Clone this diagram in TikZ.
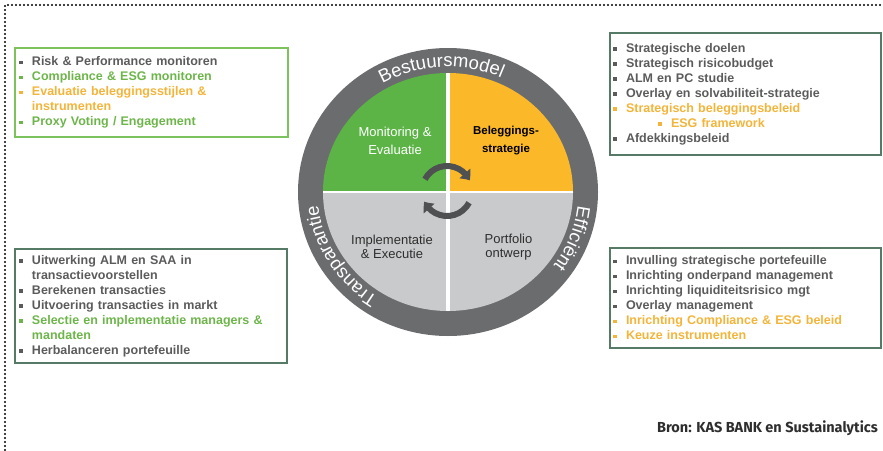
\documentclass[tikz,border=0pt]{standalone}
\usepackage{fontspec}
\setmainfont{Liberation Sans}
\newfontfamily\bronfont{Fira Sans}
\usetikzlibrary{decorations.text,arrows.meta,bending}

\definecolor{txtgray}{HTML}{5B5B5B}
\definecolor{txtgreen}{HTML}{6DB54A}
\definecolor{txtorange}{HTML}{F3B43A}
\definecolor{pgreen}{HTML}{5CB446}
\definecolor{pyellow}{HTML}{FBB829}
\definecolor{pgray}{HTML}{C9CACC}
\definecolor{ringgray}{HTML}{6B6C6E}
\definecolor{arrgray}{HTML}{4F5052}
\definecolor{boxgreen}{HTML}{7CC25D}
\definecolor{boxdark}{HTML}{557A66}
\definecolor{darktxt}{HTML}{2E2E2E}

\newcommand{\sqbul}{\rule[1.5pt]{3.6pt}{3.6pt}}
\newcommand{\itm}[2]{\textcolor{#1}{\makebox[13pt][l]{\sqbul}#2}}
\newcommand{\cnt}[2]{\textcolor{#1}{\hspace*{13pt}#2}}
\newcommand{\ringfnt}{\fontsize{18.5}{20}\selectfont}

\begin{document}
\begin{tikzpicture}[x=1pt,y=1pt,
  dotline/.style={line width=2.1pt,line cap=round,dash pattern=on 0pt off 4pt},
  listbox/.style={draw,line width=1.3pt,align=left,inner ysep=0pt,font=\fontsize{12.5}{15}\selectfont\bfseries},
  quadlbl/.style={align=center,inner sep=0pt},
  ringtxt/.style={decorate,decoration={text along path,text align=center,text color=white}},
  cycarrow/.style={arrgray,line width=6pt,-{Triangle[width=14pt,length=8.5pt,bend]}}]
\useasboundingbox (0,0) rectangle (883,-450);
\draw[dotline] (5,-450) -- (5,-5) -- (883,-5);

\coordinate (pc) at (448,-192);
\fill[ringgray] (pc) ellipse[x radius=150pt,y radius=144pt];
\begin{scope}[shift={(pc)}]
\fill[pgreen] (0,0) -- (90:125pt and 119pt) arc[start angle=90,end angle=180,x radius=125pt,y radius=119pt] -- cycle;
\fill[pyellow] (0,0) -- (0:125pt and 119pt) arc[start angle=0,end angle=90,x radius=125pt,y radius=119pt] -- cycle;
\fill[pgray] (0,0) -- (180:125pt and 119pt) arc[start angle=180,end angle=360,x radius=125pt,y radius=119pt] -- cycle;
\end{scope}
\draw[white,line width=3.5pt] ([yshift=119pt]pc) -- ([yshift=-119pt]pc);
\draw[white,line width=2.5pt] ([xshift=-125pt]pc) -- ([xshift=125pt]pc);

\path[ringtxt,decoration={text={|\ringfnt|Bestuursmodel}}] ([shift={(140:130.5pt and 125pt)}]pc) arc[start angle=140,end angle=46,x radius=130.5pt,y radius=125pt];
\path[ringtxt,decoration={text={|\ringfnt|Efficiënt}}] ([shift={(15:130.5pt and 125pt)}]pc) arc[start angle=15,end angle=-57,x radius=130.5pt,y radius=125pt];
\path[ringtxt,decoration={text={|\ringfnt|Transparantie}}] ([shift={(255:130.5pt and 125pt)}]pc) arc[start angle=255,end angle=168,x radius=130.5pt,y radius=125pt];

\coordinate (cyc) at (447,-191);
\draw[cycarrow] ([shift={(152:25pt)}]cyc) arc[start angle=152,end angle=25,radius=25pt];
\draw[cycarrow] ([shift={(-28:25pt)}]cyc) arc[start angle=-28,end angle=-155,radius=25pt];

\node[quadlbl,text=white,font=\fontsize{13}{18}\selectfont] (mon) at (395,-141) {Monitoring \&\\Evaluatie};
\node[quadlbl,text=black,font=\fontsize{11.5}{18}\selectfont\bfseries] (bel) at (506,-141) {Beleggings-\\strategie};
\node[quadlbl,text=darktxt,font=\fontsize{13}{13.5}\selectfont] (imp) at (392,-247) {Implementatie\\\& Executie};
\node[quadlbl,text=darktxt,font=\fontsize{13}{13.5}\selectfont] (por) at (508.5,-247) {Portfolio\\ontwerp};

\node[listbox,draw=boxgreen,text width=265pt,inner xsep=4pt,minimum height=89pt] (mbox) at (151.5,-92.5) {%
\itm{txtgray}{Risk \& Performance monitoren}\\
\itm{txtgreen}{Compliance \& ESG monitoren}\\
\itm{txtorange}{Evaluatie beleggingsstijlen \&}\\
\cnt{txtorange}{instrumenten}\\
\itm{txtgreen}{Proxy Voting / Engagement}};
\node[listbox,draw=boxdark,text width=265pt,inner xsep=3pt,minimum height=122pt] (sbox) at (745.5,-94) {%
\itm{txtgray}{Strategische doelen}\\
\itm{txtgray}{Strategisch risicobudget}\\
\itm{txtgray}{ALM en PC studie}\\
\itm{txtgray}{Overlay en solvabiliteit-strategie}\\
\itm{txtorange}{Strategisch beleggingsbeleid}\\
\textcolor{txtorange}{\hspace*{45pt}\makebox[13pt][l]{\sqbul}ESG framework}\\
\itm{txtgray}{Afdekkingsbeleid}};
\node[listbox,draw=boxdark,text width=264pt,inner xsep=4pt,minimum height=114pt] (ibox) at (151,-306) {%
\itm{txtgray}{Uitwerking ALM en SAA in}\\
\cnt{txtgray}{transactievoorstellen}\\
\itm{txtgray}{Berekenen transacties}\\
\itm{txtgray}{Uitvoering transacties in markt}\\
\itm{txtgreen}{Selectie en implementatie managers \&}\\
\cnt{txtgreen}{mandaten}\\
\itm{txtgray}{Herbalanceren portefeuille}};
\node[listbox,draw=boxdark,text width=265pt,inner xsep=3pt,minimum height=100pt] (pbox) at (745.5,-298) {%
\itm{txtgray}{Invulling strategische portefeuille}\\
\itm{txtgray}{Inrichting onderpand management}\\
\itm{txtgray}{Inrichting liquiditeitsrisico mgt}\\
\itm{txtgray}{Overlay management}\\
\itm{txtorange}{Inrichting Compliance \& ESG beleid}\\
\itm{txtorange}{Keuze instrumenten}};

\node[anchor=base east,inner sep=0pt,text=darktxt,font=\bronfont\bfseries\fontsize{14.5}{16}\selectfont] (bron) at (878,-432) {Bron: KAS BANK en Sustainalytics};
\end{tikzpicture}
\end{document}
